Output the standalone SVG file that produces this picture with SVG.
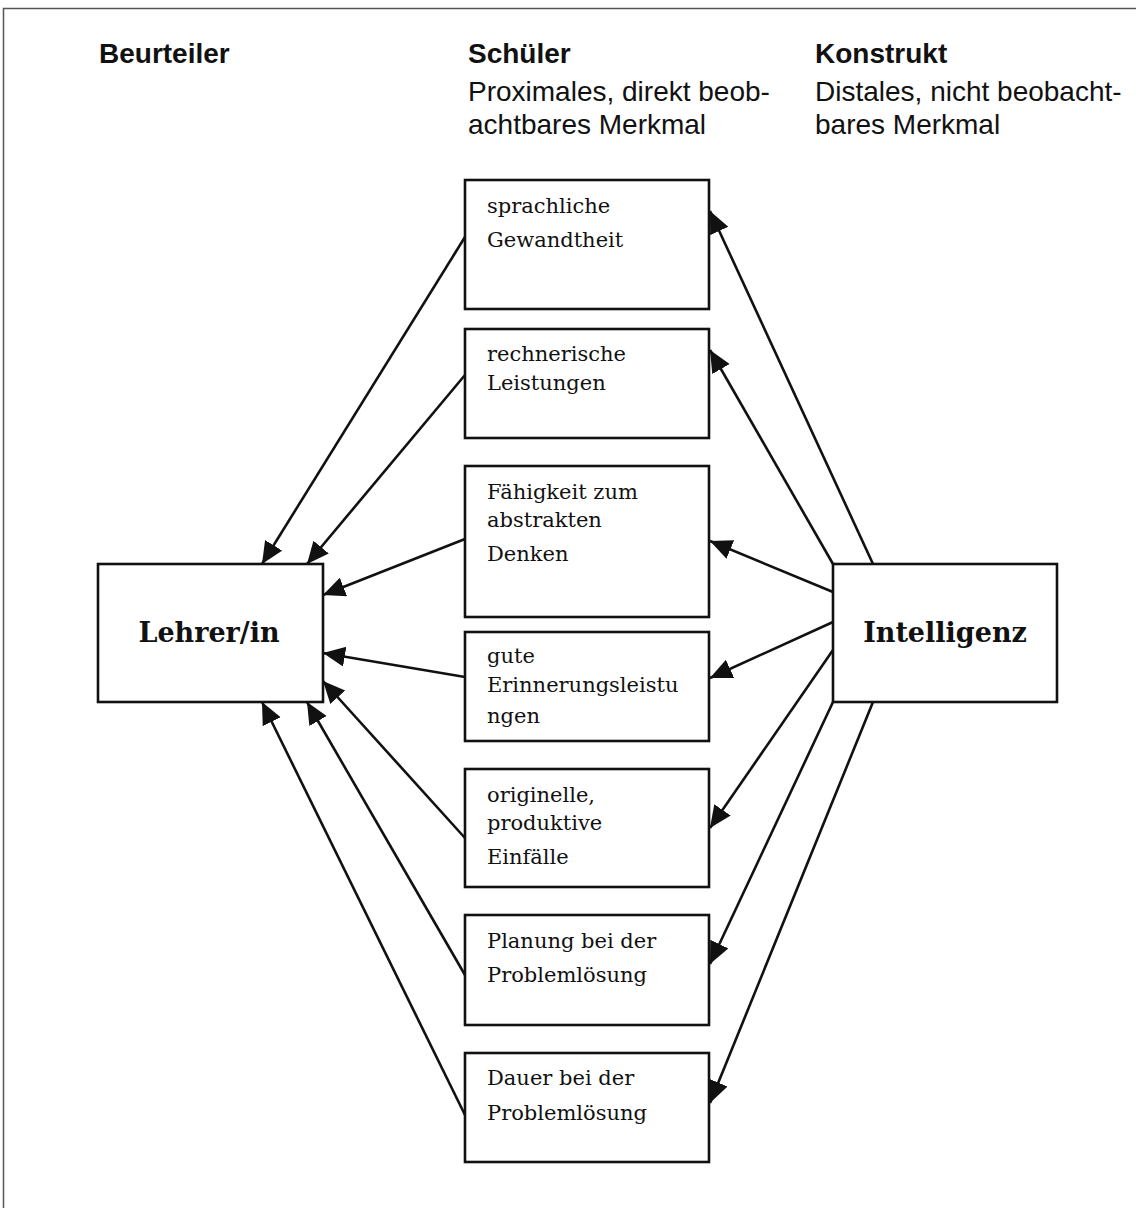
<svg xmlns="http://www.w3.org/2000/svg" width="1136" height="1208" viewBox="0 0 1136 1208">
<style>
.box{fill:#fff;stroke:#111;stroke-width:2.6}
.t{font-family:"DejaVu Serif","Liberation Serif",serif;font-size:21px;fill:#111}
.big{font-family:"DejaVu Serif","Liberation Serif",serif;font-size:27px;font-weight:bold;fill:#111;text-anchor:middle}
.h{font-family:"Liberation Sans","Open Sans",sans-serif;font-size:28px;fill:#111}
.hb{font-weight:bold}
.c{stroke:#111;stroke-width:2.6;fill:none;marker-end:url(#ah)}
</style>
<defs>
<marker id="ah" markerUnits="userSpaceOnUse" markerWidth="24" markerHeight="22" refX="22" refY="10" orient="auto">
<path d="M0,0 L22,10 L0,20 Z" fill="#111"/>
</marker>
</defs>
<rect width="1136" height="1208" fill="#fff"/>
<path d="M3.5,1208 V8.5 H1136" fill="none" stroke="#555" stroke-width="1.5"/>
<g id="headers">
<text class="h hb" x="99" y="63">Beurteiler</text>
<text class="h hb" x="468" y="63">Schüler</text>
<text class="h" x="468" y="101">Proximales, direkt beob-</text>
<text class="h" x="468" y="134">achtbares Merkmal</text>
<text class="h hb" x="815" y="63">Konstrukt</text>
<text class="h" x="815" y="101">Distales, nicht beobacht-</text>
<text class="h" x="815" y="134">bares Merkmal</text>
</g>
<g id="connectors">
<line class="c" x1="465" y1="237" x2="262" y2="564"/>
<line class="c" x1="465" y1="375" x2="307" y2="564"/>
<line class="c" x1="465" y1="539" x2="323" y2="595"/>
<line class="c" x1="465" y1="677" x2="323" y2="653"/>
<line class="c" x1="465" y1="838" x2="323" y2="681"/>
<line class="c" x1="465" y1="975" x2="307" y2="702"/>
<line class="c" x1="465" y1="1115" x2="262" y2="702"/>
<line class="c" x1="873" y1="564" x2="710" y2="211"/>
<line class="c" x1="833" y1="564" x2="710" y2="350"/>
<line class="c" x1="833" y1="592" x2="710" y2="541"/>
<line class="c" x1="833" y1="622" x2="710" y2="678"/>
<line class="c" x1="833" y1="650" x2="710" y2="828"/>
<line class="c" x1="833" y1="702" x2="710" y2="964"/>
<line class="c" x1="873" y1="702" x2="710" y2="1103"/>
</g>
<g id="lehrer"><rect class="box" x="98" y="564" width="225" height="138"/><text class="big" x="209" y="642">Lehrer/in</text></g>
<g id="intelligenz"><rect class="box" x="833" y="564" width="224" height="138"/><text class="big" x="945" y="642">Intelligenz</text></g>
<g id="n1"><rect class="box" x="465" y="180" width="244" height="129"/><text class="t" x="487" y="213">sprachliche</text><text class="t" x="487" y="247">Gewandtheit</text></g>
<g id="n2"><rect class="box" x="465" y="329" width="244" height="109"/><text class="t" x="487" y="361">rechnerische</text><text class="t" x="487" y="390">Leistungen</text></g>
<g id="n3"><rect class="box" x="465" y="466" width="244" height="151"/><text class="t" x="487" y="499">Fähigkeit zum</text><text class="t" x="487" y="527">abstrakten</text><text class="t" x="487" y="561">Denken</text></g>
<g id="n4"><rect class="box" x="465" y="632" width="244" height="109"/><text class="t" x="487" y="663">gute</text><text class="t" x="487" y="692">Erinnerungsleistu</text><text class="t" x="487" y="723">ngen</text></g>
<g id="n5"><rect class="box" x="465" y="769" width="244" height="118"/><text class="t" x="487" y="802">originelle,</text><text class="t" x="487" y="830">produktive</text><text class="t" x="487" y="864">Einfälle</text></g>
<g id="n6"><rect class="box" x="465" y="915" width="244" height="110"/><text class="t" x="487" y="948">Planung bei der</text><text class="t" x="487" y="982">Problemlösung</text></g>
<g id="n7"><rect class="box" x="465" y="1053" width="244" height="109"/><text class="t" x="487" y="1085">Dauer bei der</text><text class="t" x="487" y="1120">Problemlösung</text></g>
</svg>
